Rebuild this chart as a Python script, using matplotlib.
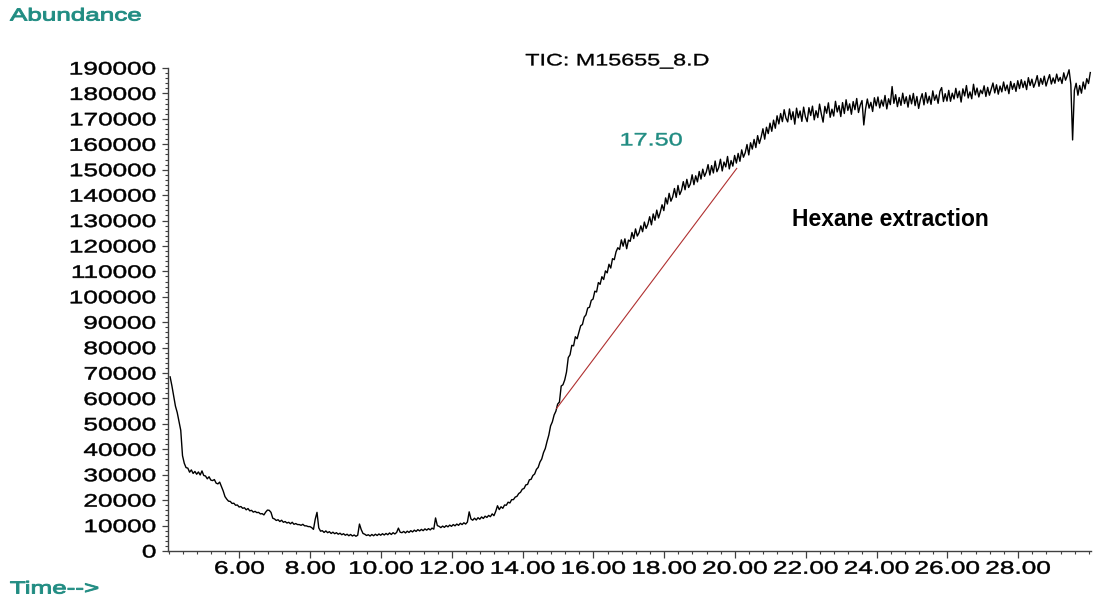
import numpy as np
import matplotlib
matplotlib.use("Agg")
import matplotlib.pyplot as plt
from matplotlib.patheffects import AbstractPathEffect
from matplotlib.transforms import Affine2D
from matplotlib.ticker import FixedLocator, MultipleLocator

# ---- TIC trace: one abundance value per scan ----
scan_start = 4.04   # min
scan_step = 0.05    # min
abundance = [
    68500, 65000, 61000, 57000, 54500, 51000, 47500, 37500, 34500, 32800, 32600, 31000, 31900, 30500, 31300, 30200, 31100, 29900, 31500, 29700,
    29500, 28400, 29200, 27900, 27700, 28100, 26700, 26400, 27100, 25300, 23600, 21400, 20400, 19600, 19500, 18700, 18800, 18000, 18100, 17300,
    17500, 16800, 17000, 16200, 16700, 15800, 16000, 15300, 15600, 15100, 15200, 14600, 14700, 14200, 15300, 16100, 16000, 15200, 12900, 12600,
    12000, 12300, 11600, 12100, 11300, 11600, 11000, 11300, 10700, 11300, 10500, 10800, 10400, 10400, 10100, 10500, 9900, 9900, 9600, 9600,
    9200, 8500, 12500, 15200, 9100, 7800, 8000, 7300, 7900, 7200, 7600, 6900, 7400, 6800, 7200, 6600, 7000, 6400, 6800, 6200,
    6600, 6000, 6500, 5900, 6300, 5800, 6200, 10600, 8400, 6900, 6600, 6100, 6400, 5900, 6500, 6000, 6600, 6100, 6700, 6200,
    6800, 6300, 6900, 6400, 7100, 6500, 7200, 6700, 7300, 9000, 7400, 7200, 7700, 7100, 7800, 7300, 8000, 7500, 8200, 7700,
    8400, 7900, 8500, 8000, 8700, 8200, 8800, 8300, 9000, 8600, 13000, 10000, 9700, 9200, 9800, 9300, 10000, 9500, 10200, 9700,
    10400, 9900, 10600, 10100, 10900, 10400, 11100, 10600, 11400, 15400, 12600, 12100, 12900, 12200, 13100, 12500, 13400, 12800, 13700, 13200,
    14000, 13500, 14600, 13900, 15600, 17800, 16300, 17400, 16800, 18100, 18000, 19200, 18900, 20200, 20200, 21200, 21500, 22600, 23100, 24300,
    24600, 26000, 26200, 28000, 28200, 29700, 30300, 32100, 32900, 35000, 36200, 38700, 40300, 43100, 45600, 49200, 50800, 53500, 55000, 57800,
    58600, 64900, 65400, 67300, 70400, 76100, 77200, 80900, 80700, 84300, 83500, 86100, 88600, 89100, 92000, 92900, 95600, 95900, 98600, 99100,
    102200, 101900, 105600, 104900, 107900, 106800, 110200, 109400, 112800, 111300, 115000, 114600, 117700, 119300, 118600, 122400, 119900, 122800, 118900, 122300,
    121800, 125300, 122900, 126700, 123900, 125200, 127900, 125600, 129400, 126900, 128600, 131500, 128300, 132600, 130100, 134100, 131000, 133300, 136200, 133900,
    138900, 136500, 140700, 137600, 139300, 142600, 139100, 143800, 140200, 141900, 145300, 142100, 146200, 143000, 144400, 148000, 144100, 147600, 145200, 149300,
    146300, 150200, 147400, 149100, 152000, 147900, 151600, 148700, 153400, 149200, 150800, 154100, 149500, 153000, 151100, 155200, 150300, 153600, 151400, 155600,
    152600, 156400, 153300, 157800, 154900, 156700, 159900, 155800, 160600, 158100, 161900, 158700, 163400, 160300, 162800, 166100, 162000, 166700, 164200, 168300,
    165100, 169500, 166300, 171200, 168000, 172100, 168900, 173600, 170300, 168800, 173900, 169700, 172800, 167900, 174200, 170400, 173100, 169000, 174600, 170800,
    168900, 174400, 171300, 175000, 169600, 173200, 170500, 175800, 171900, 168700, 174900, 172200, 176300, 170600, 173800, 171100, 176900, 172700, 175200, 170900,
    176400, 172100, 177500, 173300, 175900, 171800, 176800, 173600, 178000, 172500, 175400, 177200, 167600, 173900, 177800, 174200, 176500, 172900, 178300, 175100,
    178600, 174300, 177400, 175000, 179200, 173900, 177900, 175600, 182700, 176100, 179500, 174800, 178400, 175300, 180100, 176000, 178700, 174600, 179300, 175900,
    180000, 175200, 178800, 174100, 177600, 179900, 175500, 180300, 176200, 178900, 175700, 181000, 177300, 179400, 176100, 180800, 182300, 176800, 179900, 177000,
    181200, 176900, 180100, 177800, 182000, 178300, 180900, 176600, 181800, 179000, 183100, 178200, 180600, 177900, 183600, 179400, 182100, 178600, 181300, 179900,
    183000, 178800, 182400, 179300, 181700, 184100, 180200, 183400, 179700, 182900, 180600, 184500, 181100, 183300, 179900, 184700, 181600, 183900, 180800, 185000,
    181900, 185400, 182300, 184800, 181500, 186200, 183100, 185600, 182400, 184300, 187000, 182800, 185900, 183600, 186800, 182900, 185300, 187400, 183700, 186100,
    184000, 187600, 184800, 186300, 183900, 188100, 185200, 187000, 189300, 183600, 161700, 181200, 184000, 179300, 183100, 180100, 184500, 181700, 185800, 183900,
    188200,
]

# integration baseline drawn under the 17.50 min hump
baseline_time = [14.96, 20.05]
baseline_abund = [56100, 150500]

# axis ticks
x_major = [6, 8, 10, 12, 14, 16, 18, 20, 22, 24, 26, 28]
x_labels = ["6.00", "8.00", "10.00", "12.00", "14.00", "16.00", "18.00", "20.00",
            "22.00", "24.00", "26.00", "28.00"]
y_major = list(range(0, 190001, 10000))
y_labels = [str(v) for v in y_major]

TEAL = "#208c82"
FONT = "Liberation Sans"
WIDE = 1.45


class HStretch(AbstractPathEffect):
    """Widen glyph outlines horizontally about a fixed anchor of the text,
    optionally thickening them with a stroke of the fill colour."""

    def __init__(self, sx, anchor=0.0, stroke=0.0):
        super().__init__()
        self.sx = sx
        self.anchor = anchor
        self.stroke = stroke

    def draw_path(self, renderer, gc, tpath, affine, rgbFace=None):
        ext = tpath.get_extents(affine)
        x0 = ext.x0 + self.anchor * ext.width
        widen = Affine2D().translate(-x0, 0).scale(self.sx, 1.0).translate(x0, 0)
        gc0 = renderer.new_gc()
        gc0.copy_properties(gc)
        if self.stroke > 0 and rgbFace is not None:
            gc0.set_linewidth(self.stroke)
            gc0.set_foreground(rgbFace)
        renderer.draw_path(gc0, tpath, affine + widen, rgbFace)
        gc0.restore()


times = scan_start + scan_step * np.arange(len(abundance))

fig = plt.figure(figsize=(10.94, 6.02), dpi=100)
ax = fig.add_axes([168 / 1094, 51 / 602, 923 / 1094, 483 / 602])

ax.plot(times, abundance, color="black", lw=1.0, clip_on=False)
ax.plot(baseline_time, baseline_abund, color="#b03030", lw=0.8)

ax.set_xlim(3.98, 30.06)
ax.set_ylim(0, 190000)

for side in ("top", "right"):
    ax.spines[side].set_visible(False)
for side in ("left", "bottom"):
    ax.spines[side].set_color("#404040")
    ax.spines[side].set_linewidth(1.0)

ax.xaxis.set_major_locator(FixedLocator(x_major))
ax.set_xticklabels(x_labels)
ax.xaxis.set_minor_locator(MultipleLocator(0.4))
ax.yaxis.set_major_locator(FixedLocator(y_major))
ax.set_yticklabels(y_labels)
ax.yaxis.set_minor_locator(MultipleLocator(2000))

ax.tick_params(axis="both", which="major", direction="out", color="#404040",
               width=0.9, labelsize=13)
ax.tick_params(axis="x", which="major", length=5, pad=2)
ax.tick_params(axis="y", which="major", length=4.5, pad=4)
ax.tick_params(axis="both", which="minor", direction="out", color="#404040",
               width=0.8, length=2.5)

for lbl in ax.get_xticklabels():
    lbl.set_fontfamily(FONT)
    lbl.set_path_effects([HStretch(WIDE, 0.5, 0.35)])
for lbl in ax.get_yticklabels():
    lbl.set_fontfamily(FONT)
    lbl.set_path_effects([HStretch(WIDE, 1.0, 0.35)])

fig.text(617 / 1094, 1 - 61 / 602, "TIC: M15655_8.D", ha="center", va="center",
         fontsize=12, family=FONT, color="black",
         path_effects=[HStretch(1.4, 0.5, 0.25)])
fig.text(10 / 1094, 1 - 16 / 602, "Abundance", ha="left", va="center",
         fontsize=12.5, family=FONT, color=TEAL,
         path_effects=[HStretch(1.5, 0.0, 0.7)])
fig.text(10 / 1094, 1 - 589 / 602, "Time-->", ha="left", va="center",
         fontsize=12.5, family=FONT, color=TEAL,
         path_effects=[HStretch(1.5, 0.0, 0.7)])

ax.text(17.63, 161300, "17.50", ha="center", va="center", fontsize=13,
        family=FONT, color=TEAL, path_effects=[HStretch(1.4, 0.5, 0.3)])
ax.text(21.6, 130600, "Hexane extraction", ha="left", va="center",
        fontsize=16.5, family=FONT, fontweight="bold", color="black")

fig.savefig("out.png", dpi=100, facecolor="white")
